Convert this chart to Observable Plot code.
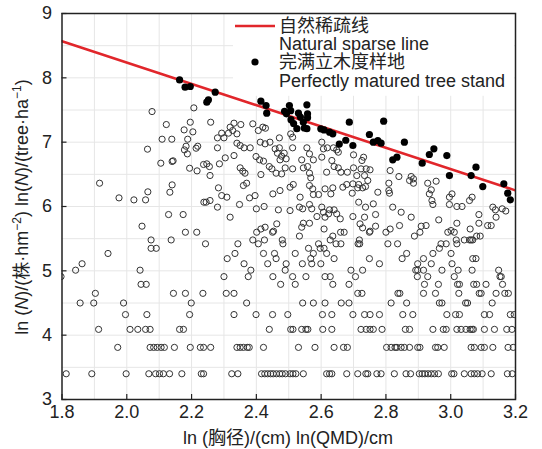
<!DOCTYPE html>
<html><head><meta charset="utf-8">
<script src="https://cdn.jsdelivr.net/npm/d3@7"></script>
<script src="https://cdn.jsdelivr.net/npm/@observablehq/plot@0.6"></script>
<style>
body{margin:0;background:#fff;}
#chart{width:542px;height:449px;}
</style></head><body><div id="chart"></div>
<script>
// ---- axis / grid values ----
const xTicks = [1.8, 2.0, 2.2, 2.4, 2.6, 2.8, 3.0, 3.2];
const yTicks = [3, 4, 5, 6, 7, 8, 9];
const xGrid = [1.9, 2.0, 2.1, 2.2, 2.3, 2.4, 2.5, 2.6, 2.7, 2.8, 2.9, 3.0, 3.1];
const yGrid = [3.5, 4, 4.5, 5, 5.5, 6, 6.5, 7, 7.5, 8, 8.5];

// ---- natural thinning line ----
const lineX = [1.8, 3.2];
const lineY = [8.57, 6.25];

// ---- open circles on discrete density rows: y level + x values ----
const rowY = [3.40, 3.81, 4.09, 4.32, 4.50, 4.65, 4.79, 4.91, 5.01, 5.11, 5.19, 5.27, 5.35, 5.42, 5.48, 5.54, 5.60];
const row30 = [1.813,1.892,1.998,2.068,2.089,2.101,2.113,2.132,2.170,2.230,2.237,2.324,2.343,2.416,2.426,2.435,2.444,2.452,2.462,2.472,2.480,2.490,2.504,2.513,2.522,2.545,2.617,2.626,2.633,2.679,2.713,2.738,2.744,2.772,2.785,2.826,2.862,2.876,2.903,2.912,2.920,2.930,2.940,2.950,2.962,3.003,3.010,3.042,3.063,3.073,3.083,3.097,3.125,3.175,3.190];
const row45 = [1.972,2.072,2.083,2.094,2.106,2.116,2.147,2.196,2.227,2.237,2.259,2.340,2.350,2.360,2.372,2.378,2.422,2.530,2.581,2.640,2.669,2.681,2.802,2.816,2.828,2.834,2.847,2.857,2.873,2.898,2.905,2.953,2.960,2.980,3.063,3.073,3.094,3.104,3.130,3.177,3.193];
const row60 = [1.913,2.010,2.034,2.058,2.072,2.163,2.175,2.440,2.506,2.513,2.540,2.553,2.559,2.605,2.633,2.723,2.739,2.751,2.761,2.788,2.860,2.873,2.945,2.977,2.986,3.019,3.032,3.047,3.060,3.066,3.070,3.104,3.135,3.173,3.189];
const row75 = [1.996,2.062,2.194,2.331,2.399,2.450,2.497,2.604,2.633,2.698,2.734,2.751,2.780,2.852,2.883,2.988,3.015,3.027,3.104,3.120,3.184,3.196];
const row90 = [1.856,1.898,1.990,2.199,2.370,2.543,2.576,2.612,2.662,2.686,2.816,2.864,2.965,2.973,3.046,3.052,3.128];
const row105 = [1.903,2.144,2.181,2.235,2.307,2.331,2.713,2.726,2.837,2.843,2.916,2.953,3.025,3.088,3.094,3.140,3.167,3.178];
const row120 = [2.044,2.060,2.475,2.520,2.636,2.686,2.919,2.962,3.021,3.027,3.071,3.080,3.109,3.160];
const row135 = [1.797,2.300,2.375,2.451,2.512,2.553,2.612,2.628,2.706,2.897,2.929,3.011,3.152,3.156];
const row150 = [1.842,2.041,2.383,2.489,2.692,2.728,2.892,2.898,2.916,2.973,3.023,3.066,3.148];
const row165 = [1.862,2.362,2.435,2.492,2.542,2.571,2.599,2.780,2.898,2.940,3.004];
const row180 = [2.310,2.461,2.568,2.640,2.749,2.850,2.916,3.068,3.078];
const row195 = [1.942,2.334,2.422,2.456,2.520,2.576,2.617,2.864,2.945,3.001];
const row210 = [2.075,2.091,2.561,2.597,2.609,2.965];
const row225 = [2.243,2.343,2.406,2.482,2.592,2.646,2.661,2.714,2.719,2.806,2.836,2.970,2.986,3.019];
const row240 = [2.075,2.137,2.389,2.425,2.480,2.628,2.718,3.017,3.042,3.058,3.063,3.068];
const row255 = [2.533,2.636,2.888,3.080,3.091];
const row270 = [2.181,2.216,2.401,2.450,2.660,2.671,2.749,2.800,2.905,2.991,3.011];
const rowX = [row30,row45,row60,row75,row90,row105,row120,row135,row150,row165,row180,row195,row210,row225,row240,row255,row270];

// ---- open circles, higher densities: [ln(QMD), ln(N)] ----
const openUpper = [
[2.207,7.533],[2.078,7.476],[2.196,7.31],[2.122,7.274],[2.177,7.191],[2.204,7.16],[2.188,7.046],[2.109,7.046],[2.139,7.046],[2.183,6.937],[2.178,6.88],[2.214,6.906],[2.219,6.937],[2.064,6.891],[2.187,6.818],[2.140,6.70],[2.143,6.71],[2.105,6.673],[2.194,6.595],[2.217,6.554],[2.237,6.653],[1.916,6.362],[2.14,6.336],[2.065,6.228],[2.133,6.222],[1.976,6.134],[2.022,6.103],[2.058,6.103],[2.238,6.067],[2.129,5.875],[2.174,5.875],[2.047,5.694],
[2.259,7.31],[2.331,7.295],[2.352,7.274],[2.319,7.233],[2.327,7.181],[2.314,7.14],[2.34,7.129],[2.293,7.14],[2.30,7.067],[2.28,7.067],[2.389,7.285],[2.406,7.181],[2.42,7.233],[2.428,7.217],[2.506,7.129],[2.512,7.077],[2.471,7.067],[2.602,7.0],[2.619,6.912],[2.638,6.912],[2.648,6.88],[2.607,6.896],[2.28,6.912],[2.34,6.984],[2.35,6.948],[2.362,6.912],[2.331,6.792],[2.304,6.756],[2.412,7.0],[2.427,6.974],[2.442,7.0],[2.458,6.896],[2.471,6.912],[2.465,6.829],[2.478,6.782],[2.486,6.829],[2.492,6.741],[2.473,6.725],[2.399,6.777],[2.41,6.725],[2.422,6.705],[2.512,6.912],[2.54,6.725],[2.576,6.725],[2.602,6.767],[2.633,6.715],[2.653,6.844],[2.247,6.663],[2.255,6.621],[2.257,6.482],[2.286,6.663],[2.35,6.601],[2.358,6.549],[2.365,6.518],[2.414,6.497],[2.44,6.621],[2.448,6.585],[2.461,6.518],[2.478,6.507],[2.489,6.6],[2.512,6.585],[2.545,6.6],[2.558,6.621],[2.564,6.518],[2.568,6.445],[2.617,6.533],[2.64,6.621],[2.653,6.6],[2.661,6.533],[2.681,6.533],[2.283,6.29],[2.309,6.145],[2.293,6.17],[2.257,6.093],[2.36,6.326],[2.37,6.362],[2.379,6.134],[2.396,6.17],[2.451,6.196],[2.473,6.248],[2.504,6.3],[2.514,6.342],[2.535,6.145],[2.564,6.326],[2.574,6.274],[2.576,6.186],[2.592,6.186],[2.612,6.274],[2.63,6.196],[2.636,6.29],[2.667,6.3],[2.679,6.342],[2.245,6.067],[2.28,5.99],[2.348,6.031],[2.4,5.964],[2.424,6.0],[2.468,5.948],[2.504,5.937],[2.533,5.99],[2.543,5.964],[2.564,6.031],[2.571,5.964],[2.602,5.99],[2.607,5.911],[2.623,5.886],[2.626,5.948],[2.64,5.948],[2.648,5.886],[2.659,5.808],[2.612,5.834],[2.587,5.844],[2.319,5.834],[2.545,5.74],[2.564,5.74],[2.54,5.678],[2.427,5.678],[2.453,5.616],[2.463,5.73],[2.556,6.912],[2.564,6.818],[2.381,6.912],[2.414,5.65],[2.609,5.65],
[2.70,6.803],[2.731,6.766],[2.726,6.715],[2.70,6.601],[2.723,6.585],[2.739,6.585],[2.751,6.57],[2.71,6.481],[2.734,6.481],[2.744,6.404],[2.698,6.352],[2.716,6.342],[2.737,6.31],[2.713,6.29],[2.728,6.29],[2.696,6.207],[2.716,6.067],[2.737,5.99],[2.761,6.041],[2.775,6.222],[2.698,5.844],[2.734,5.834],[2.768,5.875],[2.72,5.73],[2.728,5.668],[2.768,5.694],[2.751,5.616],[2.813,6.559],[2.84,6.466],[2.809,6.362],[2.809,6.248],[2.811,6.207],[2.878,6.466],[2.885,6.43],[2.873,6.404],[2.885,6.362],[2.821,5.99],[2.847,5.911],[2.878,5.834],[2.842,5.704],[2.909,5.694],[2.924,5.704],[2.929,6.362],[2.955,6.393],[2.94,6.259],[2.934,6.196],[2.942,6.093],[2.945,6.031],[2.963,5.792],[2.996,6.145],[3.004,6.196],[2.996,6.031],[3.019,6.0],[3.035,6.0],[3.019,5.74],[3.001,5.626],[3.058,6.093],[3.066,6.145],[3.087,5.875],[3.087,5.74],[3.114,5.704],[3.125,5.704],[3.13,5.99],[3.138,5.948],[3.14,5.834],[2.813,5.65],[3.06,5.65],[3.159,5.964],[3.17,5.93]
];

// ---- filled dots: perfectly matured tree stands ----
const filledPts = [
[2.163,7.968],[2.18,7.855],[2.196,7.865],[2.247,7.621],[2.252,7.658],[2.273,7.777],[2.414,7.637],[2.43,7.57],[2.432,7.45],[2.487,7.48],[2.493,7.44],[2.502,7.57],[2.506,7.49],[2.507,7.35],[2.515,7.29],[2.525,7.21],[2.53,7.45],[2.536,7.39],[2.545,7.31],[2.548,7.22],[2.556,7.58],[2.558,7.44],[2.558,7.38],[2.556,7.21],[2.599,7.207],[2.609,7.19],[2.626,7.155],[2.636,7.13],[2.656,6.97],[2.676,7.03],[2.687,7.31],[2.698,6.948],[2.749,7.119],[2.761,7.0],[2.775,7.025],[2.785,6.984],[2.793,7.326],[2.821,6.725],[2.834,6.766],[2.857,7.0],[2.912,6.673],[2.934,6.808],[2.948,6.896],[2.988,6.792],[2.996,6.481],[3.063,6.481],[3.078,6.611],[3.099,6.31],[3.164,6.353],[3.176,6.207],[3.184,6.104]
];

// ---- text ----
const legendLabels = ["自然稀疏线", "Natural sparse line", "完满立木度样地", "Perfectly matured tree stand"];
const xTitle = "ln (胸径)/(cm) ln(QMD)/cm";

// ---- build tables ----
const openPts = [];
rowY.forEach((y, i) => rowX[i].forEach(x => openPts.push({x, y})));
openUpper.forEach(([x, y]) => openPts.push({x, y}));
const filled = filledPts.map(([x, y]) => ({x, y}));
const lineData = lineX.map((x, i) => ({x, y: lineY[i]}));

const W = 542, H = 449, mL = 61.5, mR = 27, mT = 13, mB = 50;
const plotW = W - mL - mR, plotH = H - mT - mB;
const FONT = '"Liberation Sans", Arial, "Noto Sans CJK SC", sans-serif';
const INK = "#222";

const chart = Plot.plot({
  width: W, height: H,
  marginLeft: mL, marginRight: mR, marginTop: mT, marginBottom: mB,
  x: {domain: [1.8, 3.2]},
  y: {domain: [3, 9]},
  style: {fontFamily: FONT, fontSize: "18px", color: INK, background: "#fff", overflow: "visible"},
  marks: [
    Plot.ruleX(xGrid, {x: d => d, stroke: "#e6e6e6", strokeWidth: 1, strokeOpacity: 1}),
    Plot.ruleY(yGrid, {y: d => d, stroke: "#e6e6e6", strokeWidth: 1, strokeOpacity: 1}),
    Plot.tickX(xTicks, {x: d => d, insetTop: plotH - 5, stroke: INK, strokeWidth: 1.2}),
    Plot.tickY(yTicks, {y: d => d, insetRight: plotW - 5, stroke: INK, strokeWidth: 1.2}),
    Plot.axisX({ticks: xTicks, tickSize: 0, tickPadding: 6, tickFormat: d3.format(".1f"), label: null, fontSize: 18, fill: INK}),
    Plot.axisY({ticks: yTicks, tickSize: 0, tickPadding: 10, tickFormat: d3.format("d"), label: null, fontSize: 18, fill: INK}),
    Plot.line(lineData, {x: "x", y: "y", stroke: "#e1262b", strokeWidth: 2.6, clip: true}),
    Plot.dot(openPts, {x: "x", y: "y", r: 3.1, stroke: "#333", strokeWidth: 1, fill: "none", clip: true}),
    Plot.dot(filled, {x: "x", y: "y", r: 3.6, fill: "#000", stroke: "none", clip: true}),
    Plot.frame({stroke: INK, strokeWidth: 1.5})
  ]
});
document.getElementById("chart").appendChild(chart);

// ---- legend (white box hides the grid under it) ----
const NS = "http://www.w3.org/2000/svg";
const kids = Array.from(chart.children).filter(n => n.tagName.toLowerCase() !== "style");
const bg = document.createElementNS(NS, "rect");
bg.setAttribute("x", 233); bg.setAttribute("y", mT + 0.8);
bg.setAttribute("width", W - mR - 233 - 0.8); bg.setAttribute("height", 95 - mT);
bg.setAttribute("fill", "#fff");
chart.insertBefore(bg, kids[2]);

const svg = d3.select(chart);
const lg = svg.append("g").attr("font-family", FONT).attr("font-size", 18)
  .attr("fill", INK).attr("text-anchor", "start");
lg.append("line").attr("x1", 235).attr("x2", 275).attr("y1", 26).attr("y2", 26)
  .attr("stroke", "#e1262b").attr("stroke-width", 2.6);
lg.append("circle").attr("cx", 255).attr("cy", 62).attr("r", 3.6).attr("fill", "#000");
const ly = [26, 44, 62, 81];
legendLabels.forEach((t, i) => {
  lg.append("text").attr("x", 279).attr("y", ly[i]).attr("dy", "0.36em")
    .attr("text-anchor", "start").text(t);
});

// ---- axis titles ----
svg.append("text").attr("x", 288).attr("y", 438).attr("dy", "0.36em")
  .attr("text-anchor", "middle").attr("font-family", FONT).attr("font-size", 18).attr("fill", INK)
  .text(xTitle);

const yt = svg.append("text").attr("transform", "translate(22,207) rotate(-90)")
  .attr("text-anchor", "middle").attr("dy", "0.36em")
  .attr("font-family", FONT).attr("font-size", 18).attr("fill", INK);
yt.append("tspan").text("ln (");
yt.append("tspan").attr("font-style", "italic").text("N");
yt.append("tspan").text(")/(株·hm");
yt.append("tspan").attr("font-size", 12).attr("dy", -7).text("−2");
yt.append("tspan").attr("dy", 7).text(") ln(");
yt.append("tspan").attr("font-style", "italic").text("N");
yt.append("tspan").text(")/(tree·ha");
yt.append("tspan").attr("font-size", 12).attr("dy", -7).text("−1");
yt.append("tspan").attr("dy", 7).text(")");
</script></body></html>
